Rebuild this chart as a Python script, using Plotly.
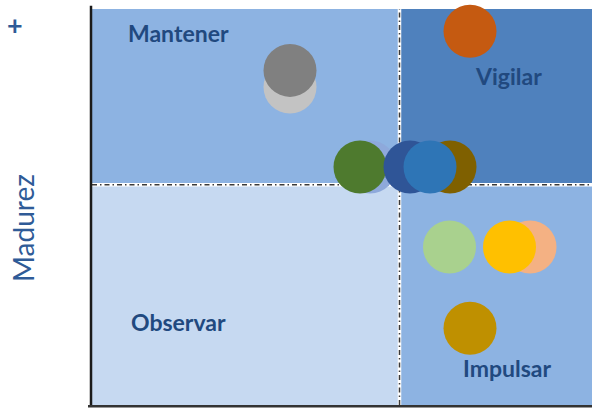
import plotly.graph_objects as go

# Bubble positions (0-100 scale on both axes)
names = ["gris_claro", "gris_oscuro", "naranja", "azul_claro", "verde", "oliva",
         "azul_oscuro", "azul", "verde_claro", "melocoton", "oro", "oro_oscuro"]
x_vals = [39.6, 39.6, 75.6, 55.6, 53.6, 71.6, 63.6, 67.6, 71.5, 87.6, 83.5, 75.6]
y_vals = [80.3, 84.5, 94.4, 60.1, 60.1, 60.1, 60.1, 60.1, 39.9, 39.9, 39.9, 19.4]
colors = ["#C3C3C3", "#808080", "#C55A11", "#8EA9DB", "#4E7A2E", "#7F6000",
          "#2F5597", "#2E75B6", "#A9D18E", "#F4B183", "#FFC000", "#BF9000"]

# Quadrant split
x_split = 61.5
y_split = 55.6

quadrant_labels = ["Mantener", "Vigilar", "Observar", "Impulsar"]
label_x = [17.2, 83.2, 17.2, 83.0]
label_y = [93.9, 83.1, 21.0, 9.3]

fig = go.Figure()

quad_colors = {"tl": "#8DB3E2", "tr": "#4F81BD", "bl": "#C6D9F1", "br": "#8DB3E2"}
dash = "5px,3px,1.5px,3px"
shapes = [
    dict(type="rect", x0=0, x1=x_split, y0=y_split, y1=100, fillcolor=quad_colors["tl"], line_width=0, layer="below"),
    dict(type="rect", x0=x_split, x1=100, y0=y_split, y1=100, fillcolor=quad_colors["tr"], line_width=0, layer="below"),
    dict(type="rect", x0=0, x1=x_split, y0=0, y1=y_split, fillcolor=quad_colors["bl"], line_width=0, layer="below"),
    dict(type="rect", x0=x_split, x1=100, y0=0, y1=y_split, fillcolor=quad_colors["br"], line_width=0, layer="below"),
    dict(type="line", x0=x_split, x1=x_split, y0=0, y1=100, line=dict(color="white", width=3.5), layer="below"),
    dict(type="line", x0=0, x1=100, y0=y_split, y1=y_split, line=dict(color="white", width=3.5), layer="below"),
    dict(type="line", x0=x_split, x1=x_split, y0=0, y1=100, line=dict(color="#3a3a3a", width=1.5, dash=dash), layer="below"),
    dict(type="line", x0=0, x1=100, y0=y_split, y1=y_split, line=dict(color="#3a3a3a", width=1.5, dash=dash), layer="below"),
    # axis lines
    dict(type="line", xref="paper", yref="paper", x0=-0.002, x1=-0.002, y0=-0.005, y1=1.008, line=dict(color="#1a1a1a", width=2.5)),
    dict(type="line", xref="paper", yref="paper", x0=-0.008, x1=1, y0=-0.003, y1=-0.003, line=dict(color="#333333", width=2.5)),
]

for n, xv, yv, c in zip(names, x_vals, y_vals, colors):
    fig.add_trace(go.Scatter(
        x=[xv], y=[yv], mode="markers", name=n,
        marker=dict(size=53, color=c, line=dict(width=0)),
        cliponaxis=False, hoverinfo="skip",
    ))

for t, xv, yv in zip(quadrant_labels, label_x, label_y):
    fig.add_annotation(x=xv, y=yv, text="<b>" + t + "</b>", showarrow=False,
                       xanchor="center", yanchor="middle",
                       font=dict(family="Lato", size=23, color="#21497F"))

fig.add_annotation(xref="paper", yref="paper", x=-0.138, y=0.447, text="Madurez",
                   textangle=-90, showarrow=False, xanchor="center", yanchor="middle",
                   font=dict(family="Lato", size=28, color="#2F5B97"))
fig.add_annotation(xref="paper", yref="paper", x=-0.154, y=0.962, text="<b>+</b>",
                   showarrow=False, xanchor="center", yanchor="middle",
                   font=dict(family="Lato", size=27, color="#2F5B97"))

fig.update_layout(
    width=592, height=409,
    margin=dict(l=92, r=0, t=9, b=4, autoexpand=False),
    paper_bgcolor="white", plot_bgcolor="white",
    showlegend=False, shapes=shapes,
    xaxis=dict(range=[0, 100], showgrid=False, zeroline=False, showticklabels=False, ticks=""),
    yaxis=dict(range=[0, 100], showgrid=False, zeroline=False, showticklabels=False, ticks=""),
)

fig.write_html("out.html", config={"displayModeBar": False},
               post_script="document.body.style.margin='0';document.body.style.overflow='hidden';")
